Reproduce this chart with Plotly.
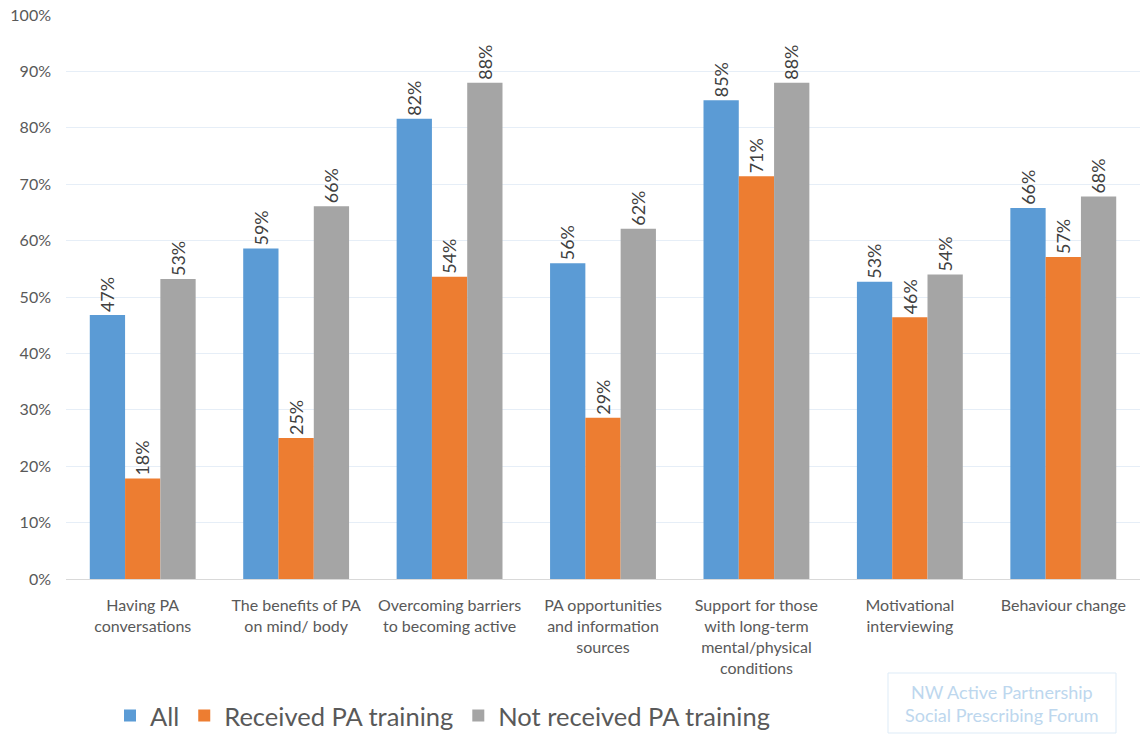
import plotly.graph_objects as go

categories = [
    "Having PA<br>conversations",
    "The benefits of PA<br>on mind/ body",
    "Overcoming barriers<br>to becoming active",
    "PA opportunities<br>and information<br>sources",
    "Support for those<br>with long-term<br>mental/physical<br>conditions",
    "Motivational<br>interviewing",
    "Behaviour change",
]

all_resp = [0.468, 0.586, 0.816, 0.560, 0.849, 0.527, 0.658]
received = [0.178, 0.250, 0.536, 0.286, 0.714, 0.464, 0.571]
not_received = [0.532, 0.661, 0.880, 0.621, 0.880, 0.540, 0.678]

series = [
    ("All", all_resp, "#5B9BD5"),
    ("Received PA training", received, "#ED7D31"),
    ("Not received PA training", not_received, "#A5A5A5"),
]

FONT = "Lato, 'Open Sans', sans-serif"
W, H = 1140, 734

fig = go.Figure()
for name, vals, color in series:
    fig.add_trace(go.Bar(
        name=name,
        x=categories,
        y=vals,
        marker=dict(color=color, line=dict(width=0)),
        texttemplate="%{y:.0%}",
        textposition="outside",
        textangle=-90,
        textfont=dict(size=18.5, color="#404040", family=FONT),
        cliponaxis=False,
    ))

fig.update_layout(
    width=W,
    height=H,
    barmode="group",
    bargap=0.31,
    bargroupgap=0,
    plot_bgcolor="white",
    paper_bgcolor="white",
    margin=dict(l=66, r=0, t=15, b=155, autoexpand=False),
    font=dict(family=FONT, color="#595959"),
    showlegend=True,
    legend=dict(
        orientation="h",
        xref="container", yref="container",
        x=110 / W, xanchor="left",
        y=1 - 716 / H, yanchor="middle",
        font=dict(size=25.5, color="#595959", family=FONT),
        itemwidth=30,
        tracegroupgap=0,
    ),
    xaxis=dict(
        showgrid=False,
        showline=True,
        linecolor="#D9D9D9",
        linewidth=1,
        ticks="",
        tickangle=0,
        ticklabelstandoff=12,
        tickfont=dict(size=16, color="#595959"),
    ),
    yaxis=dict(
        range=[0, 1.0],
        tickvals=[i / 10 for i in range(11)],
        tickformat=".0%",
        showgrid=True,
        gridcolor="#E6EEF7",
        gridwidth=1,
        zeroline=False,
        showline=False,
        ticks="",
        ticklabelstandoff=14,
        tickfont=dict(size=16, color="#595959"),
    ),
)

# Forum credit box in the lower right corner
fig.add_shape(
    type="rect", xref="paper", yref="paper",
    x0=(888 - 66) / 1074, x1=(1116 - 66) / 1074,
    y0=(579 - 733) / 564, y1=(579 - 673) / 564,
    line=dict(color="#DDEBF7", width=1),
    fillcolor="rgba(0,0,0,0)",
)
fig.add_annotation(
    xref="paper", yref="paper",
    x=(1002 - 66) / 1074, y=(579 - 703) / 564,
    xanchor="center", yanchor="middle",
    text="NW Active Partnership<br>Social Prescribing Forum",
    showarrow=False,
    font=dict(size=18, color="#BDD7EE", family=FONT),
    align="center",
)

fig.write_html("out.html")
